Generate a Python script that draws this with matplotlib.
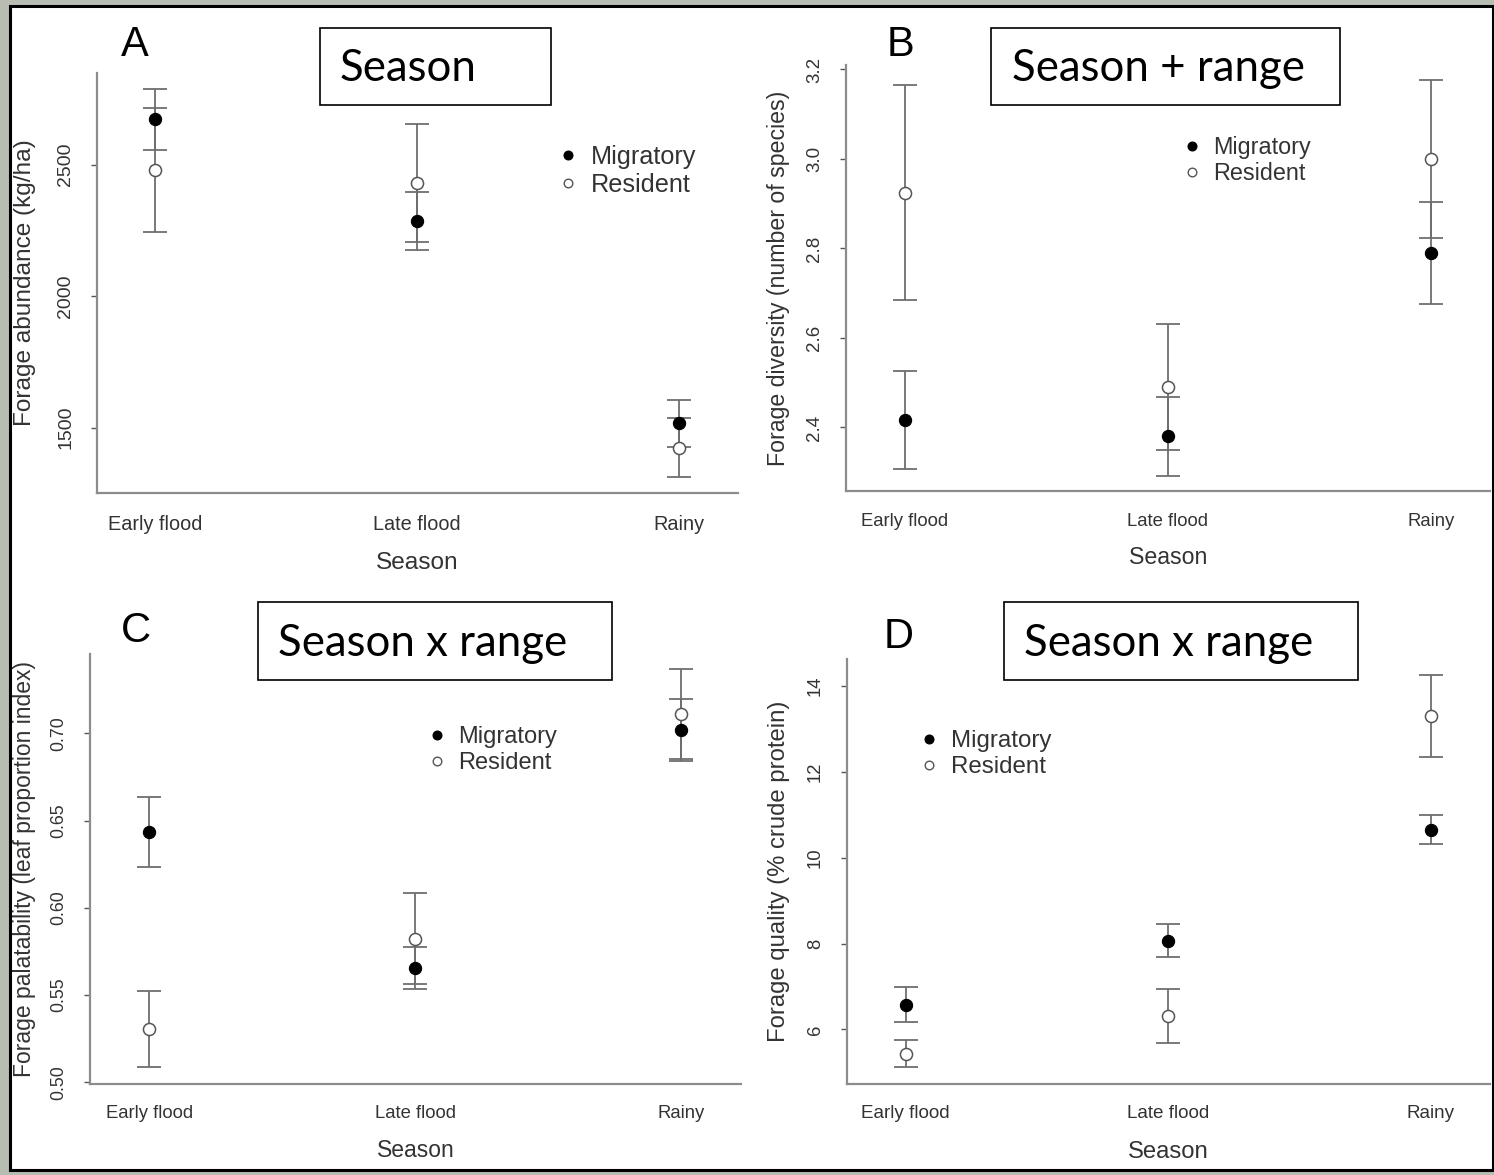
import matplotlib
matplotlib.use("Agg")
import matplotlib.pyplot as plt
from matplotlib.lines import Line2D
from matplotlib.patches import Rectangle

# ---------------- data ----------------
seasons = ["Early flood", "Late flood", "Rainy"]
groups = ["Migratory", "Resident"]

# A: forage abundance (kg/ha)
abund_mig = [2672, 2284, 1516]
abund_mig_se = [117, 110, 90]
abund_res = [2479, 2430, 1423]
abund_res_se = [235, 224, 113]

# B: forage diversity (number of species)
div_mig = [2.417, 2.380, 2.789]
div_mig_se = [0.110, 0.088, 0.114]
div_res = [2.925, 2.491, 3.000]
div_res_se = [0.241, 0.141, 0.177]

# C: forage palatability (leaf proportion index)
pal_mig = [0.6434, 0.5654, 0.7019]
pal_mig_se = [0.0201, 0.0119, 0.0176]
pal_res = [0.5304, 0.5823, 0.7109]
pal_res_se = [0.0217, 0.0262, 0.0258]

# D: forage quality (% crude protein)
qual_mig = [6.58, 8.07, 10.65]
qual_mig_se = [0.40, 0.38, 0.34]
qual_res = [5.44, 6.32, 13.30]
qual_res_se = [0.32, 0.63, 0.95]

abund_ticks = [1500, 2000, 2500]
div_ticks = [2.4, 2.6, 2.8, 3.0, 3.2]
pal_ticks = [0.50, 0.55, 0.60, 0.65, 0.70]
qual_ticks = [6, 8, 10, 12, 14]

# ---------------- figure ----------------
W, H = 1494, 1175
fig = plt.figure(figsize=(W / 100, H / 100), dpi=100)
fig.patch.set_facecolor("#b7bdb2")
bg = Rectangle((10 / W, 1 - 1170 / H), 1483 / W, 1164 / H,
               transform=fig.transFigure, facecolor="white",
               edgecolor="black", linewidth=2.2, zorder=-10)
fig.add_artist(bg)

FONT = "Liberation Sans"
TXT = "#333333"
AXC = "#8c8c8c"
ERR = "#6e6e6e"


def px_axes(x0, x1, y0, y1):
    ax = fig.add_axes([x0 / W, 1 - y1 / H, (x1 - x0) / W, (y1 - y0) / H])
    ax.set_facecolor("none")
    ax.set_zorder(1)
    return ax


def panel(ax, mig, mig_se, res, res_se, ylim, yticks, ytlabels, ylabel,
          tick_fs, ytick_fs, lab_fs, xpad, ylab_x, xlab_y, leg_xy, leg_fs):
    x = [1, 2, 3]
    ax.errorbar(x, res, yerr=res_se, fmt="none", ecolor=ERR, elinewidth=1.3,
                capsize=8.6, capthick=1.3, zorder=2)
    ax.errorbar(x, mig, yerr=mig_se, fmt="none", ecolor=ERR, elinewidth=1.3,
                capsize=8.6, capthick=1.3, zorder=2)
    ax.plot(x, res, ls="none", marker="o", ms=8.7, mfc="white", mec="#555555",
            mew=1.1, zorder=3)
    ax.plot(x, mig, ls="none", marker="o", ms=8.8, mfc="black", mec="black",
            mew=0.8, zorder=4)
    ax.set_xlim(0.777, 3.225)
    ax.set_ylim(*ylim)
    for s in ["top", "right"]:
        ax.spines[s].set_visible(False)
    for s in ["left", "bottom"]:
        ax.spines[s].set_color(AXC)
        ax.spines[s].set_linewidth(1.6)
    ax.set_xticks(x)
    ax.set_xticklabels(seasons, fontsize=tick_fs, color=TXT, family=FONT)
    ax.tick_params(axis="x", length=0, pad=xpad)
    ax.set_yticks(yticks)
    ax.set_yticklabels(ytlabels, fontsize=ytick_fs, color=TXT, family=FONT,
                       rotation=90, va="center")
    ax.tick_params(axis="y", length=4.5, width=1, color="#555555", pad=12)
    ax.set_ylabel(ylabel, fontsize=lab_fs, color=TXT, family=FONT)
    ax.yaxis.set_label_coords(ylab_x, 0.5)
    ax.set_xlabel("Season", fontsize=lab_fs, color=TXT, family=FONT)
    ax.xaxis.set_label_coords(0.5, xlab_y)
    handles = [Line2D([], [], ls="none", marker="o", ms=6.2, mfc="black", mec="black"),
               Line2D([], [], ls="none", marker="o", ms=6.2, mfc="white", mec="#555555", mew=1)]
    leg = ax.legend(handles, groups, loc="upper left", bbox_to_anchor=leg_xy,
                    frameon=False, borderpad=0, borderaxespad=0, handlelength=0.6,
                    handletextpad=0.6, labelspacing=0.16,
                    prop={"family": FONT, "size": leg_fs})
    for t in leg.get_texts():
        t.set_color(TXT)


# Panel A
axA = px_axes(97, 738, 73, 493)
panel(axA, abund_mig, abund_mig_se, abund_res, abund_res_se, (1251, 2848),
      abund_ticks, [str(v) for v in abund_ticks], "Forage abundance (kg/ha)",
      14.3, 14.0, 17.6, 16, -0.095, -0.14, (0.723, 0.828), 18.2)

# Panel B
axB = px_axes(846, 1490, 65, 491)
panel(axB, div_mig, div_mig_se, div_res, div_res_se, (2.258, 3.21),
      div_ticks, [f"{v:.1f}" for v in div_ticks], "Forage diversity (number of species)",
      13.3, 13.5, 16.7, 16, -0.087, -0.128, (0.526, 0.834), 16.8)

# Panel C
axC = px_axes(90, 741, 654, 1084)
panel(axC, pal_mig, pal_mig_se, pal_res, pal_res_se, (0.499, 0.7455),
      pal_ticks, [f"{v:.2f}" for v in pal_ticks], "Forage palatability (leaf proportion index)",
      13.3, 12.8, 16.5, 15, -0.083, -0.128, (0.522, 0.832), 17.0)

# Panel D
axD = px_axes(847, 1490, 659, 1084)
panel(axD, qual_mig, qual_mig_se, qual_res, qual_res_se, (4.73, 14.63),
      qual_ticks, [str(v) for v in qual_ticks], "Forage quality (% crude protein)",
      13.6, 13.3, 17.2, 15, -0.089, -0.134, (0.117, 0.832), 17.4)

# panel letters
for lab, (cx, cy) in {"A": (135, 45), "B": (900, 45), "C": (136, 631), "D": (899, 637)}.items():
    fig.text(cx / W, 1 - cy / H, lab, fontsize=30, family=FONT, color="black",
             ha="center", va="center", zorder=5)

# model boxes
boxes = [("Season", 320, 551, 28, 105, 340),
         ("Season + range", 991, 1340, 28, 105, 1012),
         ("Season x range", 258, 612, 602, 680, 278),
         ("Season x range", 1004, 1358, 602, 680, 1024)]
for text, x0, x1, y0, y1, tx in boxes:
    fig.add_artist(Rectangle((x0 / W, 1 - y1 / H), (x1 - x0) / W, (y1 - y0) / H,
                             transform=fig.transFigure, facecolor="white",
                             edgecolor="black", linewidth=1.2, zorder=5))
    fig.text(tx / W, 1 - ((y0 + y1) / 2 + 2) / H, text, fontsize=31.5, family="Lato",
             color="black", ha="left", va="center", zorder=6)

fig.savefig("out.png", dpi=100, facecolor=fig.get_facecolor())
